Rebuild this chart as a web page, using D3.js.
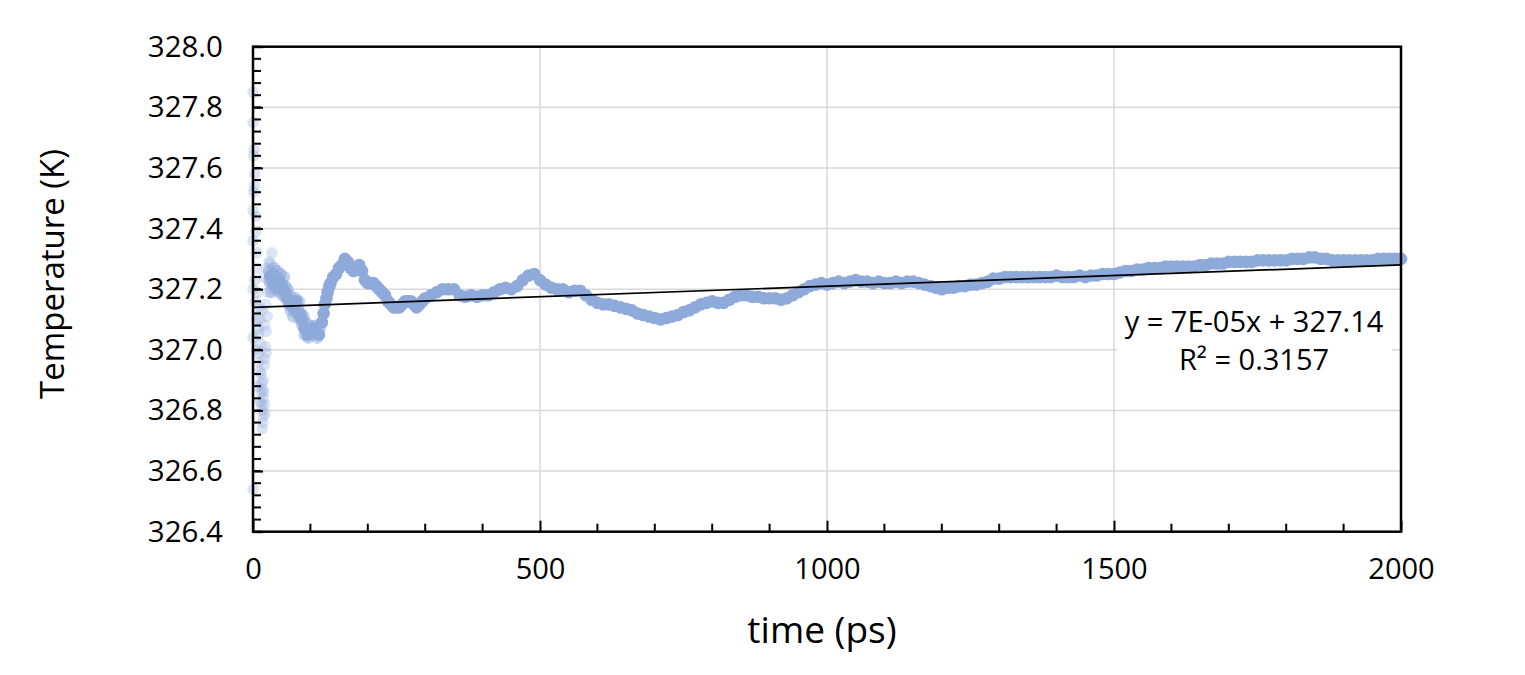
<!DOCTYPE html>
<html>
<head>
<meta charset="utf-8">
<script src="https://cdn.jsdelivr.net/npm/d3@7"></script>
<style>
  body { margin: 0; background: #fff; }
  svg text { font-family: "Open Sans", sans-serif; fill: #000; }
</style>
</head>
<body>
<div id="chart"></div>
<script>
// early transient points (running average settles down), [time ps, temperature K]
var transient = [
  [0,327.85],[0,327.75],[2,327.66],[1,327.64],[3,327.58],[2,327.54],[1,327.52],
  [0,327.46],[5,327.44],[0,327.36],[5,327.39],[7,327.32],[7,327.27],[3,327.23],
  [0,327.20],[8,327.19],[4,327.16],[10,327.14],[6,327.10],[0,327.04],[10,327.05],
  [13,327.02],[10,326.99],[10,326.96],[14,326.92],[8,326.88],[15,326.82],[0,326.54],
  [22,327.01],[23,326.99],[20,326.95],[18,326.90],[17,326.87],[18,326.84],[16,326.80],
  [18,326.78],[17,326.76],[16,326.74],[20,326.97],[25,327.11],[26,327.19],[22,327.15],
  [19,327.24],[24,327.27],[28,327.29],[30,327.285],[33,327.32],[27,327.23],[32,327.26],
  [12,326.93],[15,326.89],[19,326.86],[14,326.86],[20,326.82],[21,326.79],[12,326.83],
  [9,327.07],[12,327.10],[16,327.13],[20,327.08],[23,327.06],[6,327.00]
];

// noisy cluster right after the transient, [time ps, temperature K]
var cluster = [
  [28,327.26],[30,327.22],[32,327.19],[34,327.25],[36,327.27],[38,327.20],[40,327.24],
  [42,327.26],[44,327.21],[46,327.19],[48,327.25],[50,327.22],[52,327.18],[54,327.24],
  [56,327.21],[58,327.17],[60,327.20],[62,327.15],[64,327.18],[66,327.13],[68,327.16],
  [70,327.11],[72,327.15],[74,327.17],[76,327.12],[78,327.14],[80,327.16],[82,327.10],
  [84,327.12],[86,327.08],[88,327.11],[90,327.05],[92,327.09],[96,327.04],[100,327.08],
  [104,327.05],[108,327.08],[112,327.04],[116,327.07]
];

// main trace, [time ps, temperature K]
var trace = [
  [30,327.24],[35,327.22],[40,327.21],[45,327.23],[50,327.21],[55,327.19],[60,327.17],
  [65,327.15],[70,327.14],[75,327.16],[80,327.12],[85,327.10],[90,327.07],[95,327.05],
  [100,327.06],[105,327.07],[110,327.06],[115,327.05],[120,327.09],[123,327.12],[125,327.15],
  [128,327.17],[130,327.19],[133,327.21],[135,327.22],[140,327.24],[145,327.25],[150,327.27],
  [155,327.28],[160,327.30],[165,327.29],[170,327.27],[175,327.26],[180,327.27],[185,327.28],
  [190,327.26],[195,327.23],[200,327.22],[205,327.22],[210,327.22],[215,327.21],[220,327.20],
  [225,327.19],[230,327.18],[235,327.16],[240,327.15],[245,327.14],[250,327.14],[255,327.14],
  [260,327.15],[265,327.16],[270,327.16],[275,327.16],[280,327.15],[285,327.14],[290,327.15],
  [295,327.16],[300,327.17],[310,327.18],[320,327.19],[330,327.20],[340,327.20],[350,327.20],
  [360,327.18],[370,327.175],[380,327.18],[390,327.175],[400,327.18],[410,327.18],[420,327.19],
  [430,327.20],[440,327.205],[450,327.20],[460,327.21],[470,327.23],[480,327.245],[490,327.25],
  [500,327.23],[510,327.215],[520,327.205],[530,327.20],[540,327.20],[550,327.19],[560,327.195],
  [570,327.195],[580,327.18],[590,327.165],[600,327.155],[610,327.15],[620,327.15],[630,327.145],
  [640,327.14],[650,327.135],[660,327.13],[670,327.12],[680,327.115],[690,327.11],[700,327.105],
  [710,327.10],[720,327.105],[730,327.11],[740,327.115],[750,327.125],[760,327.13],[770,327.14],
  [780,327.15],[790,327.155],[800,327.16],[810,327.155],[820,327.155],[830,327.165],[840,327.175],
  [850,327.18],[860,327.18],[870,327.175],[880,327.175],[890,327.17],[900,327.17],[910,327.17],
  [920,327.165],[930,327.17],[940,327.18],[950,327.19],[960,327.20],[970,327.21],[980,327.215],
  [990,327.22],[1000,327.215],[1010,327.22],[1020,327.225],[1030,327.22],[1040,327.225],[1050,327.23],
  [1060,327.225],[1070,327.225],[1080,327.22],[1090,327.225],[1100,327.22],[1110,327.22],[1120,327.225],
  [1130,327.22],[1140,327.225],[1150,327.225],[1160,327.22],[1170,327.215],[1180,327.21],[1190,327.205],
  [1200,327.20],[1210,327.205],[1220,327.205],[1230,327.21],[1240,327.21],[1250,327.215],[1260,327.215],
  [1270,327.22],[1280,327.225],[1290,327.235],[1300,327.235],[1310,327.24],[1320,327.24],[1330,327.24],
  [1340,327.24],[1350,327.24],[1360,327.24],[1370,327.24],[1380,327.24],[1390,327.24],[1400,327.245],
  [1410,327.24],[1420,327.24],[1430,327.24],[1440,327.245],[1450,327.24],[1460,327.245],[1470,327.245],
  [1480,327.25],[1490,327.25],[1500,327.25],[1510,327.255],[1520,327.26],[1530,327.26],[1540,327.265],
  [1550,327.265],[1560,327.27],[1570,327.27],[1580,327.27],[1590,327.275],[1600,327.275],[1610,327.275],
  [1620,327.275],[1630,327.275],[1640,327.275],[1650,327.28],[1660,327.28],[1670,327.285],[1680,327.285],
  [1690,327.285],[1700,327.29],[1710,327.29],[1720,327.29],[1730,327.29],[1740,327.29],[1750,327.295],
  [1760,327.295],[1770,327.295],[1780,327.295],[1790,327.295],[1800,327.295],[1810,327.30],[1820,327.30],
  [1830,327.30],[1840,327.305],[1850,327.305],[1860,327.30],[1870,327.30],[1880,327.295],[1890,327.295],
  [1900,327.295],[1910,327.295],[1920,327.295],[1930,327.295],[1940,327.295],[1950,327.295],[1960,327.30],
  [1970,327.30],[1980,327.30],[1990,327.30],[2000,327.30]
];

var xTicks = [0, 500, 1000, 1500, 2000];
var yTicks = [326.4, 326.6, 326.8, 327.0, 327.2, 327.4, 327.6, 327.8, 328.0];

// linear trendline (Excel)
var slope = 7e-5;
var intercept = 327.14;
var eqLines = ["y = 7E-05x + 327.14", "R\u00B2 = 0.3157"];

var width = 1525, height = 675;
var plotL = 253, plotR = 1401, plotT = 46.7, plotB = 531.7;
var markerColor = "#8eaadb";

var svg = d3.select("#chart").append("svg")
  .attr("width", width)
  .attr("height", height);

var x = d3.scaleLinear().domain([0, 2000]).range([plotL, plotR]);
var y = d3.scaleLinear().domain([326.4, 328.0]).range([plotB, plotT]);

// gridlines
svg.append("g").selectAll("line")
  .data(xTicks.slice(1, -1))
  .enter().append("line")
  .attr("x1", function(d) { return x(d); })
  .attr("x2", function(d) { return x(d); })
  .attr("y1", plotT).attr("y2", plotB)
  .attr("stroke", "#d9d9d9").attr("stroke-width", 1.5);

svg.append("g").selectAll("line")
  .data(yTicks.slice(1, -1))
  .enter().append("line")
  .attr("y1", function(d) { return y(d); })
  .attr("y2", function(d) { return y(d); })
  .attr("x1", plotL).attr("x2", plotR)
  .attr("stroke", "#d9d9d9").attr("stroke-width", 1.5);

// white label box behind equation
svg.append("rect")
  .attr("x", x(1500) + 3).attr("y", 300)
  .attr("width", 275).attr("height", 82)
  .attr("fill", "#fff");

// points
var pts = svg.append("g");
pts.selectAll("circle.tr")
  .data(transient)
  .enter().append("circle")
  .attr("class", "tr")
  .attr("cx", function(d) { return x(d[0]); })
  .attr("cy", function(d) { return y(d[1]); })
  .attr("r", 5.8)
  .attr("fill", markerColor)
  .attr("fill-opacity", 0.3);

pts.selectAll("circle.cl")
  .data(cluster)
  .enter().append("circle")
  .attr("class", "cl")
  .attr("cx", function(d) { return x(d[0]); })
  .attr("cy", function(d) { return y(d[1]); })
  .attr("r", 6.2)
  .attr("fill", markerColor)
  .attr("fill-opacity", 0.55);

pts.selectAll("circle.main")
  .data(trace)
  .enter().append("circle")
  .attr("class", "main")
  .attr("cx", function(d) { return x(d[0]); })
  .attr("cy", function(d) { return y(d[1]); })
  .attr("r", 6.3)
  .attr("fill", markerColor);

// trendline
svg.append("line")
  .attr("x1", x(0)).attr("y1", y(intercept))
  .attr("x2", x(2000)).attr("y2", y(intercept + slope * 2000))
  .attr("stroke", "#000").attr("stroke-width", 1.7);

// axes with inward ticks
var xMinor = d3.range(0, 2001, 100).filter(function(d) { return d % 500 !== 0; });
svg.append("g").selectAll("line")
  .data(xMinor)
  .enter().append("line")
  .attr("x1", function(d) { return x(d); })
  .attr("x2", function(d) { return x(d); })
  .attr("y1", plotB).attr("y2", plotB - 8)
  .attr("stroke", "#000").attr("stroke-width", 2);

svg.append("g")
  .attr("transform", "translate(0," + plotB + ")")
  .call(d3.axisBottom(x).tickValues(xTicks).tickFormat(d3.format("d"))
    .tickSizeInner(-11).tickSizeOuter(0).tickPadding(27))
  .call(function(g) {
    g.select(".domain").remove();
    g.selectAll(".tick line").attr("stroke-width", 2);
    g.selectAll("text").style("font-size", "29px");
  });

var yMinor = d3.range(0, 41).map(function(i) { return 326.4 + i * 0.04; });
svg.append("g").selectAll("line")
  .data(yMinor)
  .enter().append("line")
  .attr("y1", function(d) { return y(d); })
  .attr("y2", function(d) { return y(d); })
  .attr("x1", plotL).attr("x2", plotL + 8)
  .attr("stroke", "#000").attr("stroke-width", 2);

svg.append("g")
  .attr("transform", "translate(" + plotL + ",0)")
  .call(d3.axisLeft(y).tickValues(yTicks).tickFormat(d3.format(".1f"))
    .tickSizeInner(-10).tickSizeOuter(0).tickPadding(30))
  .call(function(g) {
    g.select(".domain").remove();
    g.selectAll(".tick line").attr("stroke-width", 2);
    g.selectAll("text").style("font-size", "29.5px");
  });

// frame
svg.append("rect")
  .attr("x", plotL).attr("y", plotT)
  .attr("width", plotR - plotL).attr("height", plotB - plotT)
  .attr("fill", "none").attr("stroke", "#000").attr("stroke-width", 2.5);

// equation label
svg.append("g").selectAll("text")
  .data(eqLines)
  .enter().append("text")
  .attr("x", 1254)
  .attr("y", function(d, i) { return 332 + i * 38; })
  .attr("text-anchor", "middle")
  .style("font-size", "29px")
  .text(function(d) { return d; });

// axis titles
svg.append("text")
  .attr("x", (plotL + plotR) / 2 - 5)
  .attr("y", 643)
  .attr("text-anchor", "middle")
  .style("font-size", "37px")
  .text("time (ps)");

svg.append("text")
  .attr("transform", "translate(64,274) rotate(-90)")
  .attr("text-anchor", "middle")
  .style("font-size", "33px")
  .text("Temperature (K)");
</script>
</body>
</html>
